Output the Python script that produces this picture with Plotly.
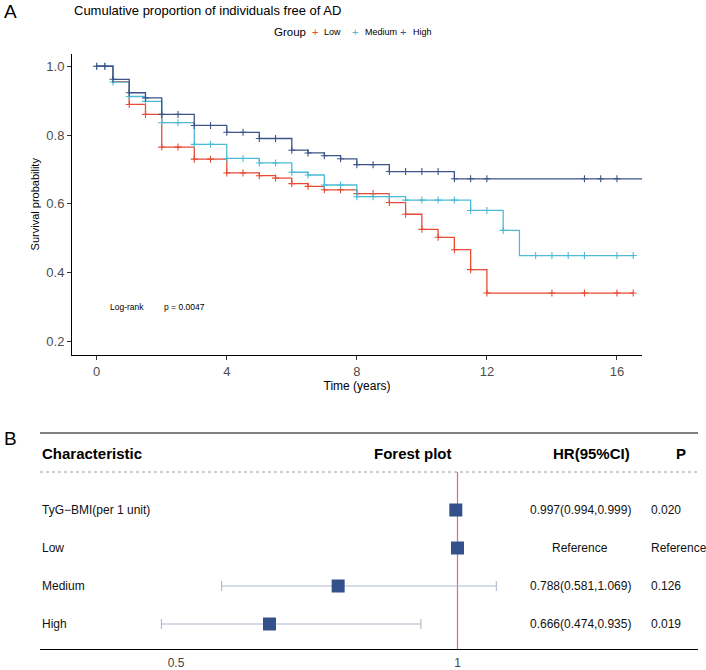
import numpy as np
import plotly.graph_objects as go

# ---------------- Data: Kaplan-Meier curves (panel A) ----------------
groups = ["Low", "Medium", "High"]
colors = {"Low": "#E64B35", "Medium": "#4DBBD5", "High": "#3C5488"}

low_times = [0, 0.5, 1.0, 1.5, 2.0, 3.0, 4.0, 5.0, 5.5, 6.0, 6.5, 7.0, 8.0, 9.0, 9.5, 10.0, 10.5, 11.0, 11.5, 12.0]
low_surv = [1.0, 0.955, 0.889, 0.860, 0.765, 0.730, 0.690, 0.682, 0.675, 0.659, 0.651, 0.641, 0.630, 0.604, 0.570, 0.526, 0.503, 0.467, 0.409, 0.341]
low_end = 16.5
low_censor = [1.0, 1.5, 2.0, 2.5, 3.0, 3.5, 4.0, 4.5, 5.0, 5.5, 6.0, 6.5, 7.0, 7.5, 8.0, 8.5, 9.0, 9.5,
              10.0, 10.5, 11.0, 11.5, 12.0, 14.0, 15.0, 16.0, 16.5]

med_times = [0, 0.5, 1.0, 1.5, 2.0, 3.0, 4.0, 5.0, 6.0, 6.5, 7.0, 8.0, 9.5, 11.5, 12.5, 13.0]
med_surv = [1.0, 0.954, 0.912, 0.898, 0.836, 0.773, 0.732, 0.719, 0.692, 0.684, 0.655, 0.621, 0.611, 0.581, 0.523, 0.450]
med_end = 16.5
med_censor = [0, 0.25, 0.5, 1.0, 1.5, 2.0, 2.5, 3.0, 3.5, 4.0, 4.5, 5.0, 5.5, 6.0, 6.5, 7.0, 7.5, 8.0, 8.5,
              9.0, 9.5, 10.0, 10.5, 11.0, 11.5, 12.0, 12.5, 13.5, 14.0, 14.5, 15.0, 16.0, 16.5]

high_times = [0, 0.5, 1.0, 1.5, 2.0, 3.0, 4.0, 5.0, 6.0, 6.5, 7.0, 7.5, 8.0, 9.0, 11.0]
high_surv = [1.0, 0.962, 0.923, 0.908, 0.860, 0.828, 0.808, 0.790, 0.756, 0.748, 0.740, 0.731, 0.714, 0.694, 0.673]
high_end = 16.78
high_censor = [0, 0.25, 0.5, 1.0, 1.5, 2.0, 2.5, 3.0, 3.5, 4.0, 4.5, 5.0, 5.5, 6.0, 6.5, 7.0, 7.5, 8.0, 8.5,
               9.0, 9.5, 10.0, 10.5, 11.0, 11.5, 12.0, 15.0, 15.5, 16.0]

km_x_ticks = [0, 4, 8, 12, 16]
km_y_ticks = [0.2, 0.4, 0.6, 0.8, 1.0]
logrank_label = "Log-rank"
logrank_p = "p = 0.0047"

# ---------------- Data: forest plot (panel B) ----------------
forest_labels = ["TyG\u2212BMI(per 1 unit)", "Low", "Medium", "High"]
hr = [0.997, 1.0, 0.788, 0.666]
hr_lo = [0.994, 1.0, 0.581, 0.474]
hr_hi = [0.999, 1.0, 1.069, 0.935]
hr_text = ["0.997(0.994,0.999)", "Reference", "0.788(0.581,1.069)", "0.666(0.474,0.935)"]
p_text = ["0.020", "Reference", "0.126", "0.019"]
forest_ticks = [0.5, 1]
forest_ticktext = ["0.5", "1"]

# ---------------- Layout helpers (pixel -> paper) ----------------
W, H = 706, 670
FONT = "Liberation Sans, Arial, sans-serif"


def fx(p):
    return p / W


def fy(p):
    return 1 - p / H


def step_at(times, surv, t):
    idx = np.searchsorted(np.asarray(times), t, side="right") - 1
    return float(np.asarray(surv)[idx])


fig = go.Figure()

km = {
    "Low": (low_times, low_surv, low_end, low_censor),
    "Medium": (med_times, med_surv, med_end, med_censor),
    "High": (high_times, high_surv, high_end, high_censor),
}

for g in groups:
    t, s, end, cens = km[g]
    fig.add_trace(go.Scatter(
        x=list(t) + [end], y=list(s) + [s[-1]],
        mode="lines", line=dict(color=colors[g], width=1.3, shape="hv"),
        name=g, showlegend=False, xaxis="x", yaxis="y", hoverinfo="skip"))
    fig.add_trace(go.Scatter(
        x=cens, y=[step_at(t, s, c) for c in cens],
        mode="markers",
        marker=dict(symbol="cross-thin", size=5, line=dict(color=colors[g], width=1.1)),
        name=g + " censored", showlegend=False, xaxis="x", yaxis="y", hoverinfo="skip"))

# ---------------- Forest plot traces ----------------
row_pos = list(range(len(forest_labels), 0, -1))  # 4,3,2,1

# reference line at HR = 1 (drawn from the data scale, under the squares)
fig.add_trace(go.Scatter(
    x=[1, 1], y=[0.342, 5.0], mode="lines", line=dict(color="#E8695E", width=1.2),
    showlegend=False, xaxis="x2", yaxis="y2", hoverinfo="skip"))

fig.add_trace(go.Scatter(
    x=hr, y=row_pos, mode="markers",
    marker=dict(symbol="square", size=13, color="#34508A"),
    error_x=dict(type="data", symmetric=False,
                 array=[h - m for h, m in zip(hr_hi, hr)],
                 arrayminus=[m - l for m, l in zip(hr, hr_lo)],
                 color="#AEB9CC", thickness=1.1, width=5),
    showlegend=False, xaxis="x2", yaxis="y2", hoverinfo="skip"))

annotations = []
for label, ht, pt, yv in zip(forest_labels, hr_text, p_text, row_pos):
    annotations.append(dict(x=fx(40), y=yv, xref="paper", yref="y2", text=label,
                            xanchor="left", yanchor="middle", showarrow=False,
                            font=dict(family=FONT, size=12, color="#111")))
    annotations.append(dict(x=fx(580), y=yv, xref="paper", yref="y2", text=ht,
                            xanchor="center", yanchor="middle", showarrow=False,
                            font=dict(family=FONT, size=12, color="#111")))
    annotations.append(dict(x=fx(649), y=yv, xref="paper", yref="y2", text=pt,
                            xanchor="left", yanchor="middle", showarrow=False,
                            font=dict(family=FONT, size=12, color="#111")))

# headers
for txt, xp, anc in [("Characteristic", 40, "left"), ("Forest plot", 413, "center"),
                     ("HR(95%CI)", 591, "center"), ("P", 681, "center")]:
    annotations.append(dict(x=fx(xp), y=fy(453), xref="paper", yref="paper",
                            text="<b>%s</b>" % txt, xanchor=anc, yanchor="middle",
                            showarrow=False, font=dict(family=FONT, size=15, color="#000")))

# panel letters and title
annotations += [
    dict(x=fx(2), y=fy(11), xref="paper", yref="paper", text="A", xanchor="left",
         yanchor="middle", showarrow=False, font=dict(family=FONT, size=19, color="#000")),
    dict(x=fx(2), y=fy(438), xref="paper", yref="paper", text="B", xanchor="left",
         yanchor="middle", showarrow=False, font=dict(family=FONT, size=19, color="#000")),
    dict(x=fx(72), y=fy(10), xref="paper", yref="paper",
         text="Cumulative proportion of individuals free of AD", xanchor="left",
         yanchor="middle", showarrow=False, font=dict(family=FONT, size=13, color="#000")),
    dict(x=fx(272), y=fy(32), xref="paper", yref="paper", text="Group", xanchor="left",
         yanchor="middle", showarrow=False, font=dict(family=FONT, size=11.5, color="#000")),
    dict(x=fx(108), y=fy(307), xref="paper", yref="paper", text=logrank_label, xanchor="left",
         yanchor="middle", showarrow=False, font=dict(family=FONT, size=8.5, color="#000")),
    dict(x=fx(162), y=fy(307), xref="paper", yref="paper", text=logrank_p, xanchor="left",
         yanchor="middle", showarrow=False, font=dict(family=FONT, size=8.5, color="#000")),
]

# legend (manual, ggplot style)
legend_mark_x = [315, 355, 403]
legend_text_x = [322, 363, 411]
for g, mx, tx in zip(groups, legend_mark_x, legend_text_x):
    annotations.append(dict(x=fx(mx), y=fy(32), xref="paper", yref="paper", text="+",
                            xanchor="center", yanchor="middle", showarrow=False,
                            font=dict(family=FONT, size=11, color=colors[g])))
    annotations.append(dict(x=fx(tx), y=fy(32), xref="paper", yref="paper", text=g,
                            xanchor="left", yanchor="middle", showarrow=False,
                            font=dict(family=FONT, size=9, color="#000")))

shapes = [
    dict(type="line", xref="paper", yref="paper", x0=fx(40), x1=fx(698), y0=fy(433), y1=fy(433),
         line=dict(color="#808080", width=2)),
    dict(type="line", xref="paper", yref="paper", x0=fx(40), x1=fx(698), y0=fy(472), y1=fy(472),
         line=dict(color="#A0A0A0", width=1, dash="dot")),
]

axis_common = dict(showgrid=False, zeroline=False, showline=True, linecolor="#000",
                   linewidth=1, ticks="outside", ticklen=4, tickcolor="#333",
                   tickfont=dict(family=FONT, size=13, color="#4D4D4D"))

fig.update_layout(
    width=W, height=H, autosize=False,
    margin=dict(l=0, r=0, t=0, b=0),
    paper_bgcolor="white", plot_bgcolor="white",
    showlegend=False,
    xaxis=dict(domain=[fx(72), fx(642)], range=[-0.76, 16.77], tickvals=km_x_ticks,
               anchor="y", title=dict(text="Time (years)", standoff=2,
                                      font=dict(family=FONT, size=12, color="#000")),
               **axis_common),
    yaxis=dict(domain=[fy(355), fy(53.5)], range=[0.161, 1.037], tickvals=km_y_ticks,
               tickformat=".1f", anchor="x",
               title=dict(text="Survival probability", standoff=4,
                          font=dict(family=FONT, size=11, color="#000")),
               **axis_common),
    xaxis2=dict(domain=[fx(40), fx(698)], range=[0.2584, 1.4272], tickvals=forest_ticks,
                ticktext=forest_ticktext, anchor="y2", showgrid=False, zeroline=False,
                showline=True, linecolor="#000", linewidth=1, ticks="outside", ticklen=3,
                tickcolor="rgba(0,0,0,0)",
                tickfont=dict(family=FONT, size=12, color="#444")),
    yaxis2=dict(domain=[fy(649), fy(472)], range=[0.342, 5.0], visible=False, anchor="x2"),
    annotations=annotations,
    shapes=shapes,
)

fig.write_html(
    "out.html",
    config={"displayModeBar": False},
    post_script="document.body.style.margin='0';document.body.style.overflow='hidden';",
)
